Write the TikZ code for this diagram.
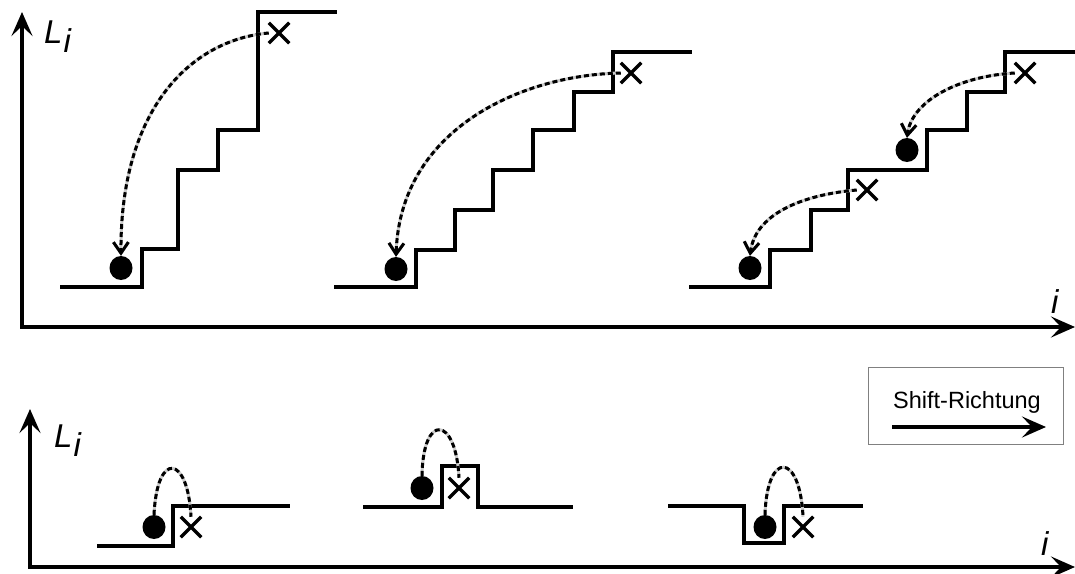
\documentclass[tikz,border=0pt]{standalone}
\usepackage{fontspec}
\setmainfont{Liberation Sans}
\usetikzlibrary{positioning, calc, shapes.misc, shapes.geometric, arrows.meta}

\newcommand{\Lsub}{L\kern1pt\raisebox{-9pt}{i}}

\begin{document}
\begin{tikzpicture}[x=1pt, y=-1pt,
    >={Stealth[length=24pt, width=21pt, inset=10pt]},
    axis/.style={line width=3.5pt, <->},
    stairs/.style={line width=3.5pt},
    ball/.style={ellipse, fill, inner sep=0pt, minimum width=23pt, minimum height=24pt},
    cross/.style={cross out, draw, line width=3.5pt, inner sep=0pt, minimum size=17pt},
    hop/.style={line width=3pt, draw=gray!40, postaction={draw=black, dash pattern=on 5pt off 3pt}},
    lab/.style={font=\fontsize{33}{39}\selectfont\itshape, inner sep=0pt}]
    \useasboundingbox (0,0) rectangle (1075,573);

    % upper plot
    \coordinate (ytop) at (22,12);
    \coordinate (xtop) at (1075,327);
    \draw[axis] (ytop) |- (xtop);
    \node[lab, anchor=base west] (Ltop) at (44,43) {\Lsub};
    \node[lab, anchor=base west] (itop) at (1051,313) {i};

    \draw[stairs] (60,287) -| (142,249) -| (178,170) -| (218,130) -| (258,12) -- (337,12);
    \draw[stairs] (334,287) -| (416,250) -| (455,210) -| (493,170) -| (533,130) -| (574,92) -| (613,52) -- (692,52);
    \draw[stairs] (689,287) -| (770,250) -| (811,210) -| (848,170) -| (927,130) -| (967,92) -| (1005,52) -- (1075,52);

    \node[ball] (b1) at (121,268) {};
    \node[cross] (c1) at (279,33) {};
    \node[ball] (b2) at (396,269) {};
    \node[cross] (c2) at (631,73) {};
    \node[ball] (b3) at (750,268) {};
    \node[cross] (c3) at (867,190) {};
    \node[ball] (b4) at (907,150) {};
    \node[cross] (c4) at (1025,73) {};

    \draw[hop, -{Straight Barb[length=11pt, width=15pt]}] (c1.west) .. controls (190,40) and (120,110) .. (b1.north);
    \draw[hop, -{Straight Barb[length=11pt, width=15pt]}] (c2.west) .. controls (520,75) and (400,130) .. (b2.north);
    \draw[hop, -{Straight Barb[length=11pt, width=15pt]}] (c3.west) .. controls (800,195) and (755,215) .. (b3.north);
    \draw[hop, -{Straight Barb[length=11pt, width=15pt]}] (c4.west) .. controls (960,76) and (912,100) .. (b4.north);

    % lower plot
    \coordinate (ybot) at (30,409);
    \coordinate (xbot) at (1075,567);
    \draw[axis] (ybot) |- (xbot);
    \node[lab, anchor=base west] (Lbot) at (54,447) {\Lsub};
    \node[lab, anchor=base west] (ibot) at (1041,555) {i};

    \draw[stairs] (97,546) -| (173,506) -- (290,506);
    \draw[stairs] (363,507) -| (442,466) -| (478,507) -- (573,507);
    \draw[stairs] (668,506) -| (744,543) -| (784,506) -- (863,506);

    \node[ball] (d1) at (154,527) {};
    \node[cross] (e1) at (191,527) {};
    \node[ball] (d2) at (422,488) {};
    \node[cross] (e2) at (459,488) {};
    \node[ball] (d3) at (765,527) {};
    \node[cross] (e3) at (803,527) {};

    \draw[hop] (d1.north) .. controls (157,450) and (188,455) .. (e1.north);
    \draw[hop] (d2.north) .. controls (423,412) and (456,416) .. (e2.north);
    \draw[hop] (d3.north) .. controls (767,450) and (800,452) .. (e3.north);

    % legend
    \node[draw=gray, line width=1pt, minimum width=195pt, minimum height=77pt] (legend) at (965.5,405.5) {};
    \node[anchor=base, font=\fontsize{23.5}{28}\selectfont, inner sep=0pt] (shift) at (967,408) {Shift-Richtung};
    \coordinate (sa) at (892,427);
    \coordinate (sb) at (1046,427);
    \draw[line width=3.5pt, ->] (sa) -- (sb);

\end{tikzpicture}
\end{document}
